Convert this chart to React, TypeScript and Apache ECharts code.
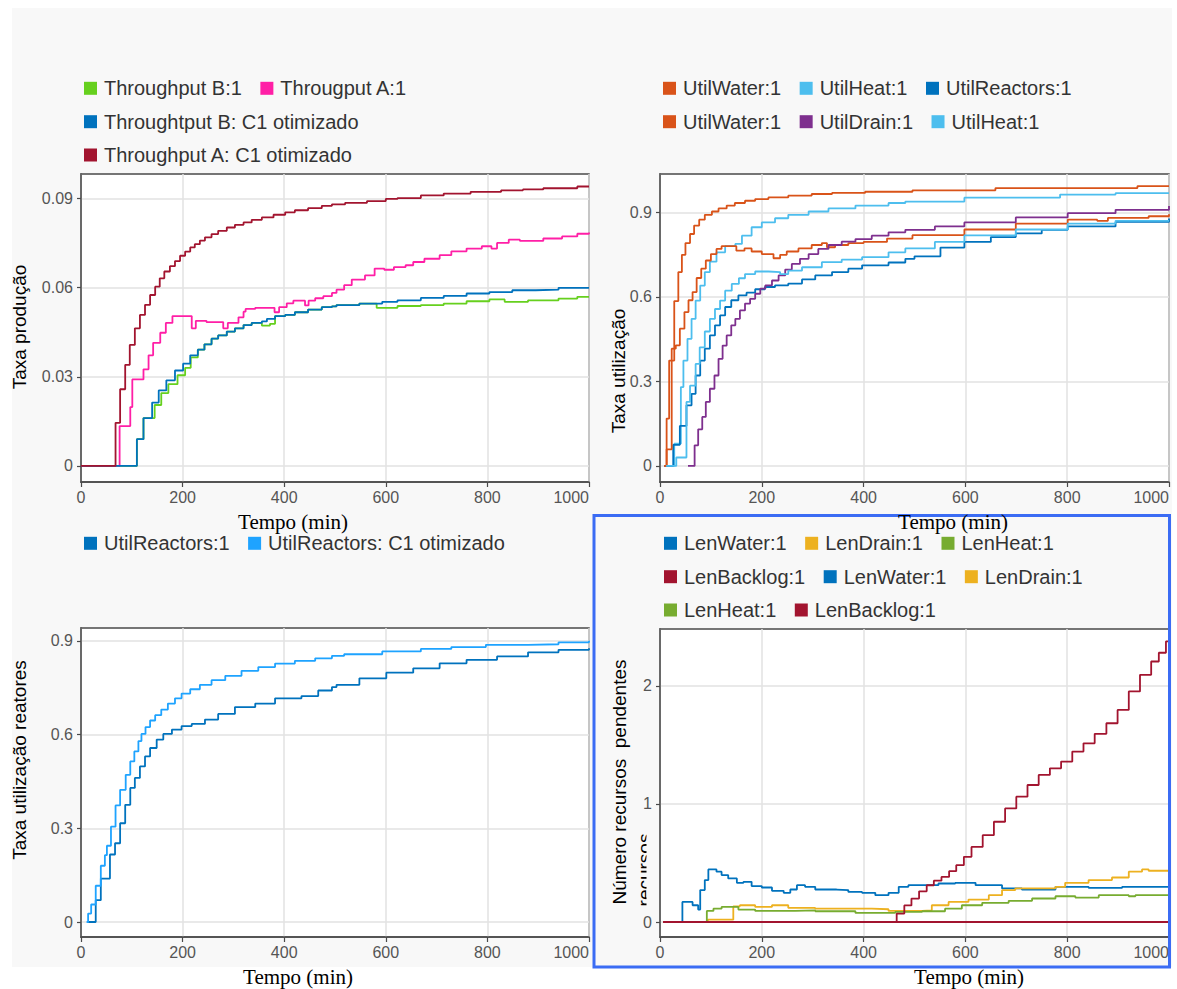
import React, { useEffect, useRef } from "react";
import * as echarts from "echarts";

type Pt = [number, number];

// ---------- tick labels ----------
const xTicks = [0, 200, 400, 600, 800, 1000];
const yTicksProd = [0, 0.03, 0.06, 0.09];
const yTicksUtil = [0, 0.3, 0.6, 0.9];
const yTicksReact = [0, 0.3, 0.6, 0.9];
const yTicksLen = [0, 1, 2];

// ---------- axis titles ----------
const xTitle = "Tempo (min)";
const yTitleProd = "Taxa produção";
const yTitleUtil = "Taxa utilização";
const yTitleReact = "Taxa utilização reatores";
const yTitleLen = "Número recursos  pendentes";
const yTitleLenExtra = "recursos";

// ---------- panel 1: throughput ----------
const namesProd = ["Throughput B:1", "Througput A:1", "Throughtput B: C1 otimizado", "Throughput A: C1 otimizado"];
const tpB1: Pt[] = [[0,0],[110,0.009],[123,0.0161],[145,0.0205],[158,0.0245],[172,0.0275],[190,0.0305],[205,0.033],[216,0.0365],[230,0.0391],[243,0.0409],[257,0.0428],[270,0.0439],[287,0.0452],[303,0.0463],[320,0.0474],[336,0.0481],[356,0.0472],[372,0.0478],[382,0.0504],[402,0.0508],[421,0.0517],[447,0.0526],[474,0.0534],[494,0.0537],[503,0.0541],[548,0.0546],[582,0.0532],[623,0.0538],[669,0.0541],[714,0.0546],[759,0.0554],[804,0.056],[834,0.0552],[880,0.0557],[940,0.0563],[977,0.0569],[1000,0.057]];
const tpA1: Pt[] = [[0,0],[76,0.0134],[97,0.0198],[101,0.0291],[123,0.0325],[133,0.0372],[142,0.0414],[156,0.0448],[167,0.0481],[180,0.0504],[218,0.0463],[226,0.0488],[247,0.0484],[280,0.0463],[289,0.0481],[310,0.05],[320,0.0519],[324,0.0528],[343,0.0532],[381,0.0517],[390,0.0534],[405,0.0547],[418,0.0556],[441,0.054],[448,0.0556],[461,0.0564],[477,0.0571],[494,0.0582],[503,0.0593],[518,0.0608],[533,0.0627],[559,0.0641],[578,0.0664],[597,0.066],[616,0.0669],[639,0.0675],[654,0.0686],[676,0.0697],[706,0.0709],[729,0.0722],[759,0.0731],[789,0.0739],[808,0.0731],[819,0.075],[842,0.0761],[864,0.0757],[910,0.0765],[947,0.0772],[977,0.0781],[1000,0.0785]];
const tpBC1: Pt[] = [[0,0],[110,0.009],[123,0.0161],[140,0.0213],[153,0.0254],[168,0.0288],[185,0.0321],[201,0.0344],[215,0.0372],[230,0.0391],[243,0.0409],[257,0.0428],[270,0.0439],[287,0.0452],[303,0.0463],[320,0.0474],[336,0.0481],[356,0.0486],[366,0.0495],[382,0.0504],[402,0.0508],[421,0.0517],[447,0.0526],[474,0.0534],[494,0.0537],[503,0.0541],[548,0.0546],[593,0.0552],[623,0.0557],[669,0.0565],[714,0.0572],[759,0.058],[804,0.0585],[849,0.0591],[895,0.0593],[940,0.0599],[1000,0.06]];
const tpAC1: Pt[] = [[0,0],[68,0.0145],[77,0.0258],[87,0.034],[96,0.0407],[106,0.0463],[116,0.0508],[126,0.0542],[136,0.0575],[146,0.0603],[155,0.0631],[164,0.0654],[175,0.0672],[185,0.0689],[195,0.0707],[205,0.0721],[215,0.0735],[224,0.0746],[234,0.0758],[244,0.0769],[257,0.078],[270,0.0791],[287,0.0802],[303,0.0811],[320,0.0819],[336,0.0828],[356,0.0836],[379,0.0845],[402,0.0853],[421,0.086],[447,0.0867],[474,0.0875],[494,0.088],[520,0.0885],[563,0.0891],[600,0.0898],[623,0.0901],[669,0.091],[714,0.0916],[767,0.0922],[827,0.0927],[870,0.093],[910,0.0934],[977,0.094],[1000,0.094]];

// ---------- panel 2: utilisation ----------
const namesUtil = ["UtilWater:1", "UtilHeat:1", "UtilReactors:1", "UtilWater:1", "UtilDrain:1", "UtilHeat:1"];
const utilWaterA: Pt[] = [[8,0],[13,0.168],[18,0.374],[28,0.585],[36,0.688],[43,0.749],[50,0.791],[59,0.823],[67,0.853],[77,0.874],[88,0.891],[102,0.903],[115,0.914],[131,0.924],[147,0.933],[167,0.941],[187,0.947],[213,0.953],[252,0.959],[298,0.965],[338,0.969],[403,0.973],[496,0.978],[659,0.986],[938,0.993],[1000,0.993]];
const utilHeatA: Pt[] = [[12,0],[28,0.079],[41,0.28],[46,0.374],[54,0.451],[62,0.522],[70,0.587],[79,0.64],[88,0.688],[98,0.725],[111,0.758],[128,0.78],[148,0.788],[161,0.817],[180,0.847],[200,0.864],[226,0.879],[252,0.891],[292,0.903],[331,0.914],[384,0.924],[449,0.933],[482,0.938],[598,0.952],[786,0.963],[895,0.968],[1000,0.97]];
const utilReactorsA: Pt[] = [[8,0],[26,0.075],[39,0.142],[52,0.215],[62,0.256],[70,0.321],[79,0.374],[88,0.416],[98,0.463],[108,0.499],[118,0.534],[128,0.564],[140,0.588],[154,0.605],[170,0.615],[187,0.627],[206,0.635],[226,0.641],[252,0.647],[279,0.662],[305,0.676],[338,0.688],[370,0.7],[397,0.712],[449,0.722],[482,0.735],[500,0.744],[551,0.775],[598,0.795],[650,0.812],[699,0.825],[750,0.838],[801,0.85],[895,0.866],[1000,0.878]];
const utilWaterB: Pt[] = [[8,0],[13,0.059],[23,0.416],[31,0.428],[39,0.487],[48,0.546],[56,0.588],[64,0.617],[72,0.667],[81,0.7],[90,0.729],[100,0.752],[111,0.77],[121,0.78],[150,0.764],[166,0.772],[180,0.761],[200,0.752],[223,0.737],[236,0.749],[249,0.761],[272,0.772],[298,0.784],[318,0.791],[328,0.776],[344,0.784],[370,0.791],[400,0.795],[446,0.807],[496,0.819],[598,0.839],[699,0.86],[801,0.874],[859,0.87],[880,0.88],[960,0.886],[1000,0.893]];
const utilDrainB: Pt[] = [[55,0],[68,0.073],[75,0.13],[83,0.174],[90,0.227],[98,0.274],[107,0.321],[115,0.38],[123,0.427],[131,0.463],[140,0.499],[148,0.522],[157,0.552],[167,0.576],[177,0.593],[187,0.611],[197,0.629],[207,0.641],[220,0.658],[233,0.676],[246,0.697],[259,0.717],[275,0.735],[292,0.752],[311,0.77],[331,0.784],[357,0.796],[384,0.805],[416,0.817],[449,0.829],[482,0.838],[540,0.85],[598,0.864],[699,0.882],[801,0.897],[895,0.909],[1000,0.922]];
const utilHeatB: Pt[] = [[12,0],[32,0.03],[52,0.227],[59,0.285],[70,0.362],[78,0.421],[88,0.477],[98,0.522],[108,0.557],[118,0.587],[128,0.622],[141,0.646],[155,0.666],[167,0.681],[187,0.69],[213,0.688],[236,0.681],[252,0.693],[279,0.705],[318,0.723],[357,0.732],[397,0.741],[449,0.758],[482,0.772],[540,0.795],[598,0.818],[699,0.839],[801,0.86],[895,0.87],[1000,0.87]];

// ---------- panel 3: reactors ----------
const namesReact = ["UtilReactors:1", "UtilReactors: C1 otimizado"];
const reactBase: Pt[] = [[14,0],[29,0.07],[39,0.139],[57,0.216],[67,0.252],[77,0.316],[87,0.375],[97,0.429],[106,0.461],[116,0.498],[126,0.53],[136,0.557],[149,0.584],[162,0.602],[179,0.616],[198,0.627],[218,0.634],[244,0.648],[270,0.666],[303,0.688],[343,0.699],[382,0.716],[434,0.723],[467,0.741],[494,0.752],[503,0.759],[548,0.78],[601,0.798],[654,0.812],[706,0.828],[759,0.839],[819,0.85],[880,0.863],[940,0.871],[1000,0.876]];
const reactOpt: Pt[] = [[11,0],[14,0.027],[20,0.056],[29,0.116],[39,0.18],[47,0.214],[51,0.244],[59,0.305],[68,0.373],[77,0.423],[88,0.471],[97,0.514],[105,0.546],[113,0.579],[119,0.602],[127,0.624],[136,0.645],[146,0.662],[158,0.68],[171,0.699],[185,0.716],[198,0.731],[215,0.745],[234,0.759],[257,0.774],[284,0.788],[316,0.804],[349,0.816],[382,0.827],[421,0.836],[461,0.844],[494,0.852],[518,0.857],[593,0.866],[669,0.874],[729,0.88],[797,0.887],[880,0.889],[940,0.895],[1000,0.9]];

// ---------- panel 4: queue lengths ----------
const namesLen = ["LenWater:1", "LenDrain:1", "LenHeat:1", "LenBacklog:1", "LenWater:1", "LenDrain:1", "LenHeat:1", "LenBacklog:1"];
const lenWaterA: Pt[] = [[6,0],[44,0.17],[64,0.142],[75,0.105],[79,0.27],[88,0.355],[95,0.445],[111,0.426],[121,0.397],[134,0.369],[151,0.332],[164,0.34],[180,0.304],[200,0.292],[220,0.264],[243,0.247],[256,0.275],[269,0.312],[285,0.298],[305,0.275],[347,0.27],[370,0.255],[397,0.247],[423,0.227],[449,0.247],[469,0.298],[488,0.312],[547,0.326],[580,0.332],[620,0.312],[672,0.284],[711,0.275],[777,0.298],[842,0.289],[908,0.298],[1000,0.298]];
const lenDrainA: Pt[] = [[6,0],[94,0.02],[144,0.133],[157,0.142],[187,0.128],[220,0.142],[252,0.119],[305,0.113],[357,0.113],[416,0.108],[449,0.094],[515,0.099],[534,0.142],[567,0.17],[606,0.19],[646,0.227],[672,0.27],[698,0.284],[777,0.298],[796,0.332],[842,0.355],[888,0.377],[921,0.426],[947,0.445],[960,0.434],[1000,0.448]];
const lenHeatA: Pt[] = [[6,0],[92,0.094],[105,0.113],[121,0.128],[154,0.105],[187,0.094],[266,0.099],[305,0.091],[384,0.077],[462,0.085],[515,0.091],[560,0.113],[593,0.142],[633,0.162],[685,0.179],[731,0.199],[777,0.218],[816,0.207],[862,0.227],[921,0.218],[934,0.227],[1000,0.227]];
const lenBacklogA: Pt[] = [[6,0],[454,0],[465,0.071],[480,0.14],[494,0.198],[509,0.26],[524,0.311],[538,0.35],[553,0.382],[568,0.43],[582,0.481],[597,0.552],[612,0.636],[634,0.735],[656,0.849],[678,0.962],[700,1.061],[722,1.16],[744,1.245],[766,1.301],[788,1.358],[810,1.443],[832,1.513],[854,1.593],[877,1.683],[899,1.796],[921,1.952],[943,2.093],[965,2.206],[980,2.28],[994,2.376],[1000,2.376]];
const lenWaterB: Pt[] = [[6,0],[1000,0]];
const lenDrainB: Pt[] = [[6,0],[1000,0]];
const lenHeatB: Pt[] = [[6,0],[1000,0]];
const lenBacklogB: Pt[] = [[6,0],[1000,0]];

// ---------- colours ----------
const colorsProd = ["#66d01e", "#ff1fa6", "#0072bd", "#a2142f"];
const colorsUtil = ["#d95319", "#4dbeee", "#0072bd", "#d95319", "#7e2f8e", "#4dbeee"];
const colorsReact = ["#0072bd", "#1ea3ff"];
const colorsLen = ["#0072bd", "#edb120", "#77ac30", "#a2142f", "#0072bd", "#edb120", "#77ac30", "#a2142f"];

const SANS = "'Liberation Sans', Arial, Helvetica, sans-serif";
const SERIF = "'Liberation Serif', 'Times New Roman', serif";
const BG = "#f8f8f8";
const AX = "#4a4a4a";

export default function App() {
  const ref = useRef<HTMLDivElement>(null);

  useEffect(() => {
    if (!ref.current) return;
    const chart = echarts.init(ref.current, undefined, { renderer: "svg" });

    const panels = [
      { grid: { left: 81, top: 174, width: 508, height: 308 }, min: -0.0054, max: 0.0982, ticks: yTicksProd,
        names: namesProd, colors: colorsProd, data: [tpB1, tpA1, tpBC1, tpAC1],
        yTitle: yTitleProd, yTitlePos: [19, 327], xTitlePos: [293, 522],
        legendX: 84, legendRows: [[0, 1], [2], [3]], legendY: [88.3, 121.7, 155] },
      { grid: { left: 660, top: 174, width: 509, height: 308 }, min: -0.057, max: 1.036, ticks: yTicksUtil,
        names: namesUtil, colors: colorsUtil, data: [utilWaterA, utilHeatA, utilReactorsA, utilWaterB, utilDrainB, utilHeatB],
        yTitle: yTitleUtil, yTitlePos: [618, 371], xTitlePos: [953, 522],
        legendX: 663, legendRows: [[0, 1, 2], [3, 4, 5]], legendY: [88.3, 121.7] },
      { grid: { left: 81, top: 628, width: 508, height: 309 }, min: -0.048, max: 0.941, ticks: yTicksReact,
        names: namesReact, colors: colorsReact, data: [reactBase, reactOpt],
        yTitle: yTitleReact, yTitlePos: [19, 760], xTitlePos: [298, 977],
        legendX: 84, legendRows: [[0, 1]], legendY: [543.3] },
      { grid: { left: 660, top: 629, width: 509, height: 308 }, min: -0.127, max: 2.481, ticks: yTicksLen,
        names: namesLen, colors: colorsLen, data: [lenWaterA, lenDrainA, lenHeatA, lenBacklogA, lenWaterB, lenDrainB, lenHeatB, lenBacklogB],
        yTitle: yTitleLen, yTitlePos: [619, 782], xTitlePos: [969, 977],
        legendX: 664, legendRows: [[0, 1, 2], [3, 4, 5], [6, 7]], legendY: [543.3, 576.7, 610] },
    ];

    const ctx = document.createElement("canvas").getContext("2d")!;
    const legendFont = `20px ${SANS}`;
    const measure = (t: string) => { ctx.font = legendFont; return ctx.measureText(t).width; };

    const graphic: any[] = [
      { type: "rect", z: -100, silent: true, shape: { x: 12, y: 8, width: 1160, height: 959 }, style: { fill: BG } },
    ];

    panels.forEach((p) => {
      p.legendRows.forEach((row, ri) => {
        let x = p.legendX;
        const cy = p.legendY[ri];
        row.forEach((si) => {
          graphic.push({ type: "rect", silent: true, shape: { x, y: cy - 6.5, width: 13, height: 13 }, style: { fill: p.colors[si] } });
          graphic.push({ type: "text", silent: true, x: x + 20, y: cy, style: { text: p.names[si], font: legendFont, fill: "#333", verticalAlign: "middle", align: "left" } });
          x += 20 + measure(p.names[si]) + 18.5;
        });
      });
      graphic.push({ type: "text", silent: true, x: p.yTitlePos[0], y: p.yTitlePos[1], rotation: Math.PI / 2,
        style: { text: p.yTitle, font: `19px ${SANS}`, fill: "#000", align: "center", verticalAlign: "middle" } });
    });

    // partially hidden second line of the last y title
    graphic.push({ type: "text", silent: true, x: 644, y: 870, rotation: Math.PI / 2,
      style: { text: yTitleLenExtra, font: `19px ${SANS}`, fill: "#000", align: "center", verticalAlign: "middle" } });
    graphic.push({ type: "rect", silent: true, shape: { x: 646.5, y: 825, width: 12, height: 90 }, style: { fill: BG } });

    // blue selection frame
    graphic.push({ type: "rect", silent: true, z: 100, shape: { x: 594, y: 515.5, width: 575.5, height: 451.5 }, style: { fill: "none", stroke: "#3b6cf4", lineWidth: 3 } });

    panels.forEach((p) => {
      graphic.push({ type: "text", silent: true, z: 110, x: p.xTitlePos[0], y: p.xTitlePos[1],
        style: { text: xTitle, font: `21px ${SERIF}`, fill: "#000", align: "center", verticalAlign: "middle" } });
    });

    const series: any[] = [];
    panels.forEach((p, pi) => {
      p.data.forEach((d, si) => {
        series.push({
          type: "line", name: p.names[si], xAxisIndex: pi, yAxisIndex: pi, step: "end",
          symbol: "none", showSymbol: false, silent: true, data: d,
          lineStyle: { width: 1.8, color: p.colors[si] }, itemStyle: { color: p.colors[si] },
        });
      });
    });

    const fmt = (v: number) => String(v);

    chart.setOption({
      animation: false,
      backgroundColor: "transparent",
      grid: panels.map((p) => ({ ...p.grid, show: true, backgroundColor: "#ffffff", borderColor: AX, borderWidth: 1.5 })),
      xAxis: panels.map((p, i) => ({
        type: "value", gridIndex: i, min: 0, max: 1000, interval: 200,
        axisLine: { show: true, onZero: false, lineStyle: { color: AX, width: 1.5 } },
        axisTick: { show: true, length: 5, lineStyle: { color: AX, width: 1.2 } },
        axisLabel: { fontSize: 16, fontFamily: SANS, color: "#555", margin: 7, alignMaxLabel: "right",
          customValues: xTicks, formatter: fmt },
        splitLine: { show: true, lineStyle: { color: "#e2e2e2", width: 1.5 } },
      })),
      yAxis: panels.map((p, i) => ({
        type: "value", gridIndex: i, min: p.min, max: p.max,
        axisLine: { show: true, onZero: false, lineStyle: { color: AX, width: 1.5 } },
        axisTick: { show: true, length: 4, customValues: p.ticks, lineStyle: { color: AX, width: 1.2 } },
        axisLabel: { fontSize: 16, fontFamily: SANS, color: "#555", margin: 8, customValues: p.ticks, formatter: fmt },
        splitLine: { show: true, lineStyle: { color: "#e2e2e2", width: 1.5 } },
      })),
      graphic,
      series,
    });

    return () => chart.dispose();
  }, []);

  return <div ref={ref} style={{ position: "absolute", left: 0, top: 0, width: 1177, height: 989, background: "#fff" }} />;
}
